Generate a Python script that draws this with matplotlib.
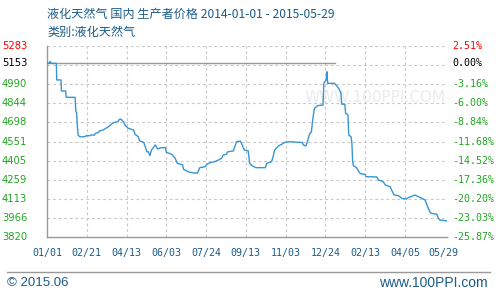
import matplotlib.pyplot as plt
import matplotlib.transforms as mtransforms
import numpy as np

plt.rcParams['font.family'] = ['Noto Sans CJK SC', 'DejaVu Sans']

title = "液化天然气 国内 生产者价格 2014-01-01 - 2015-05-29"
subtitle = "类别:液化天然气"

# 距 2014-01-01 的天数, 价格 (元/吨)
days = [0, 3, 4, 5, 12, 12.5, 18, 18.5, 24, 24.5, 36, 37, 38, 39, 40, 42, 49, 50, 55, 56, 61, 62, 66, 67,
        72, 79, 85, 91, 93, 95, 98, 100, 104, 111, 113, 117, 119, 124, 126, 128, 130, 132, 134, 137, 139,
        142, 146, 152, 153, 160, 164, 167, 174, 175, 181, 188, 193, 196, 203, 205, 209, 215, 220, 224, 226,
        230, 232, 239, 243, 248, 250, 253, 258, 260, 263, 268, 280, 282, 288, 290, 292, 297, 301, 305, 312,
        322, 327, 329, 332, 334, 337, 339, 341, 343, 347, 354, 355, 358, 359, 360, 369, 374, 377, 378, 382,
        383, 386, 387, 390, 391, 392, 393, 397, 400, 402, 408, 409, 423, 425, 431, 434, 440, 442, 445, 451,
        455, 461, 463, 468, 472, 476, 481, 485, 487, 489, 492, 500, 502, 504, 510, 513]
price = [5153, 5153, 5165, 5150, 5150, 5023, 5023, 4938, 4938, 4890, 4890, 4780, 4770, 4663, 4600, 4588,
         4588, 4596, 4596, 4601, 4601, 4614, 4620, 4632, 4640, 4665, 4696, 4703, 4722, 4722, 4703, 4678,
         4653, 4640, 4607, 4588, 4555, 4545, 4512, 4473, 4473, 4443, 4486, 4510, 4525, 4494, 4504, 4504,
         4469, 4453, 4427, 4385, 4372, 4339, 4320, 4310, 4310, 4351, 4359, 4377, 4389, 4397, 4410, 4423,
         4448, 4453, 4473, 4479, 4550, 4555, 4530, 4486, 4481, 4385, 4366, 4351, 4351, 4385, 4397, 4435,
         4486, 4519, 4530, 4545, 4550, 4545, 4545, 4525, 4517, 4550, 4614, 4622, 4729, 4806, 4826, 4831,
         4997, 5023, 5086, 4997, 4997, 4959, 4921, 4837, 4837, 4768, 4755, 4601, 4588, 4538, 4397, 4366,
         4351, 4320, 4305, 4300, 4282, 4280, 4257, 4244, 4218, 4205, 4180, 4142, 4136, 4116, 4111, 4121,
         4132, 4142, 4129, 4116, 4103, 4070, 4040, 4002, 3994, 3963, 3950, 3945, 3943]

base = 5153
y_ticks = [3820, 3966, 4113, 4259, 4405, 4551, 4698, 4844, 4990, 5153, 5283]
pct_labels = ["-25.87%", "-23.03%", "-20.20%", "-17.36%", "-14.52%", "-11.68%",
              "-8.84%", "-6.00%", "-3.16%", "0.00%", "2.51%"]
x_ticks = [0, 51, 102, 153, 204, 255, 306, 357, 408, 459, 513]
x_labels = ["01/01", "02/21", "04/13", "06/03", "07/24", "09/13",
            "11/03", "12/24", "02/13", "04/05", "05/29"]

ymin, ymax = 3820, 5283
green = "#22a522"
blue_txt = "#1b5b8a"

fig = plt.figure(figsize=(4.96, 2.92), dpi=100)
ax = fig.add_axes([47/496, 55/292, 400/496, 191/292])
ax.set_xlim(0, 513)
ax.set_ylim(ymin, ymax)

# 网格
step = (ymax - ymin) / 10
for k in range(1, 11):
    ax.axhline(ymin + k*step, color="#c8c8c8", lw=0.8, ls=(0, (2.5, 2.5)), zorder=1)
for d in x_ticks[1:]:
    ax.axvline(d, color="#c8c8c8", lw=0.8, ls=(0, (2.5, 2.5)), zorder=1)
ax.plot([0, 369], [base, base], color="#9a9a9a", lw=1.0, zorder=2)

ax.text(511, 4885, "WWW.100PPI.COM", color="#ebebeb", fontsize=11, ha="right",
        va="center", family="DejaVu Sans", zorder=1.5)

ax.plot(days, price, color="#3895d3", lw=1.0, zorder=3)

for s in ["top", "right"]:
    ax.spines[s].set_visible(False)
for s in ["left", "bottom"]:
    ax.spines[s].set_color("#999999")
    ax.spines[s].set_linewidth(1.0)
ax.set_xticks([])
ax.set_yticks([])

tr = mtransforms.blended_transform_factory(fig.transFigure, ax.transData)
for v, p in zip(y_ticks, pct_labels):
    if v == ymax:
        c = "red"
    elif v == base:
        c = "black"
    else:
        c = green
    fig.text(2/496, v, str(v), color=c, fontsize=7.2, va="center", ha="left",
             transform=tr, family="DejaVu Sans")
    fig.text(452/496, v, p, color=c, fontsize=7.2, va="center", ha="left",
             transform=tr, family="DejaVu Sans Mono")

trx = mtransforms.blended_transform_factory(ax.transData, fig.transFigure)
for d, lab in zip(x_ticks, x_labels):
    xd = d if d < 513 else 508
    fig.text(xd, 1 - 253/292, lab, color=blue_txt, fontsize=7.2, ha="center", va="center",
             transform=trx, family="DejaVu Sans Mono")

fig.text(47/496, 1 - 14/292, title, color=blue_txt, fontsize=8.7, va="center", ha="left")
fig.text(47/496, 1 - 32/292, subtitle, color=blue_txt, fontsize=8.7, va="center", ha="left")

fig.add_artist(plt.Line2D([7/496, 490/496], [1 - 272/292, 1 - 272/292],
                          color="#999999", lw=1.0, transform=fig.transFigure))
fig.text(7/496, 1 - 283/292, "© 2015.06", color=blue_txt, fontsize=9.5, va="center",
         ha="left", family="Liberation Sans")
fig.text(488/496, 1 - 283/292, "www.100PPI.com", color=blue_txt, fontsize=10, va="center",
         ha="right", family="Liberation Sans")

fig.savefig("out.png", dpi=100)
